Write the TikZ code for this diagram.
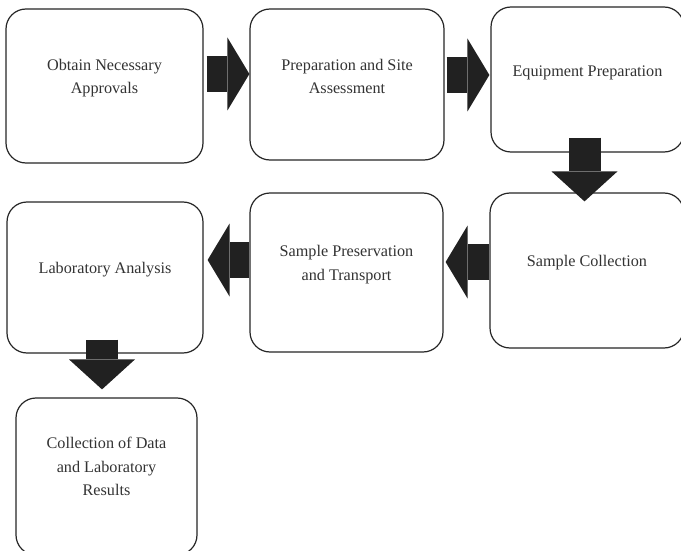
\documentclass[tikz,border=0pt]{standalone}
\usepackage{fontspec}
\setmainfont{Liberation Serif}
\usetikzlibrary{arrows.meta,calc}

\tikzset{
  stage/.style={draw=black!85, line width=1.2pt, rounded corners=20pt, fill=white, inner sep=0pt},
  stagetext/.style={align=center, text=black!80, font=\fontsize{16.2}{23.5}\selectfont},
  bigarrow/.style={draw=black!87, line width=36pt, -{Triangle[length=22pt, width=73pt, line width=0pt]}},
  downarrow/.style={bigarrow, line width=32pt, -{Triangle[length=30pt, width=66pt, line width=0pt]}}
}

\begin{document}
\begin{tikzpicture}[x=1pt, y=1pt]
\useasboundingbox (0,0) rectangle (681,-551);
\clip (0,0) rectangle (681,-551);

\node[stage, minimum width=197pt, minimum height=154pt] (approvals) at (104.5,-86) {};
\node[stage, minimum width=194pt, minimum height=151pt] (site) at (347,-84.5) {};
\node[stage, minimum width=193pt, minimum height=145pt] (equipment) at (587.5,-79.5) {};
\node[stage, minimum width=194pt, minimum height=155pt] (collection) at (587,-270.5) {};
\node[stage, minimum width=193pt, minimum height=159pt] (transport) at (346.5,-272.5) {};
\node[stage, minimum width=196pt, minimum height=151pt] (analysis) at (105,-277.5) {};
\node[stage, minimum width=181pt, minimum height=157pt] (results) at (106.5,-476.5) {};

\coordinate (a12) at ([shift={(3,12)}]approvals.east);
\coordinate (a23) at ([shift={(2,9.5)}]site.east);
\coordinate (a34) at ([shift={(-3,15)}]equipment.south);
\coordinate (a45) at ([shift={(0,8.5)}]collection.west);
\coordinate (a56) at ([shift={(0,12.5)}]transport.west);
\coordinate (a67) at ([shift={(-3,14)}]analysis.south);

\draw[bigarrow] (a12) -- (a12 -| site.west);
\draw[bigarrow] (a23) -- ([xshift=-1pt]a23 -| equipment.west);
\draw[downarrow] (a34) -- ([yshift=-9pt]a34 |- collection.north);
\draw[bigarrow] (a45) -- ([xshift=2pt]a45 -| transport.east);
\draw[bigarrow] (a56) -- ([xshift=4pt]a56 -| analysis.east);
\draw[downarrow] (a67) -- ([yshift=8pt]a67 |- results.north);

\node[stagetext] (t1) at ([yshift=8pt]approvals.center) {Obtain Necessary\\Approvals};
\node[stagetext] (t2) at ([yshift=8pt]site.center) {Preparation and Site\\Assessment};
\node[stagetext] (t3) at ([yshift=7pt]equipment.center) {Equipment Preparation};
\node[stagetext] (t4) at ([yshift=8pt]collection.center) {Sample Collection};
\node[stagetext] (t5) at ([yshift=8pt]transport.center) {Sample Preservation\\and Transport};
\node[stagetext] (t6) at ([yshift=8pt]analysis.center) {Laboratory Analysis};
\node[stagetext] (t7) at ([yshift=10pt]results.center) {Collection of Data\\and Laboratory\\Results};
\end{tikzpicture}
\end{document}
